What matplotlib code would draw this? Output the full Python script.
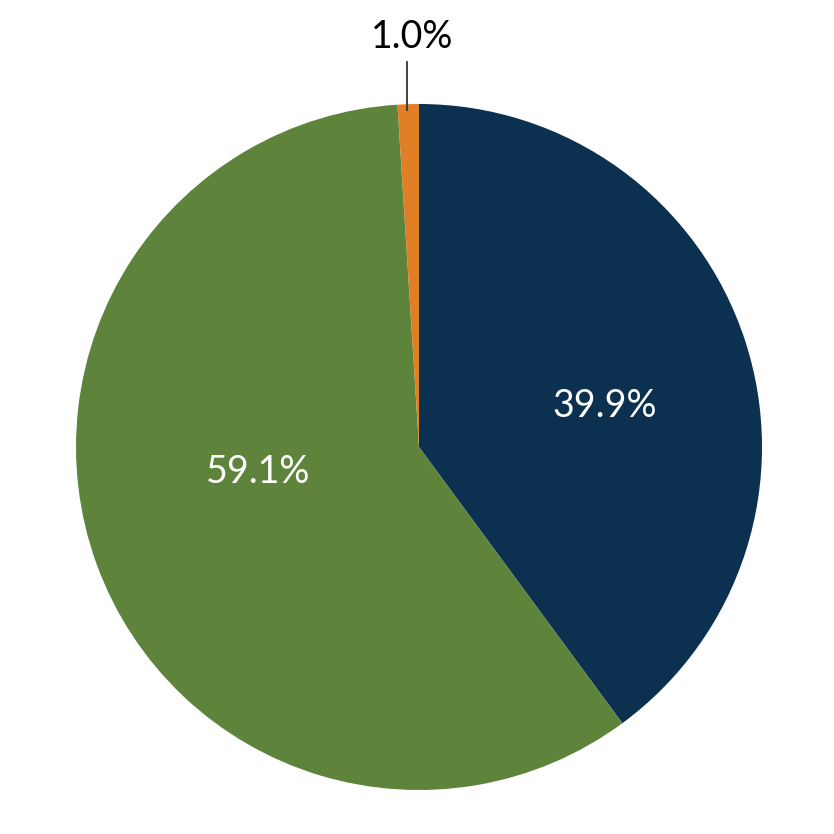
import matplotlib
matplotlib.use("Agg")
import matplotlib.pyplot as plt

shares = [39.9, 59.1, 1.0]
labels = ["39.9%", "59.1%", "1.0%"]
colors = ["#0B3050", "#5E833B", "#E07F26"]

plt.rcParams['font.family'] = ['Lato', 'DejaVu Sans']

fig = plt.figure(figsize=(8.34, 8.34), dpi=100)
ax = fig.add_axes([0, 0, 1, 1])

ax.pie(shares, colors=colors, startangle=90, counterclock=False,
       radius=1, wedgeprops=dict(linewidth=0))

# pixel geometry: centre (419, 447), radius 343
r_px = 343.0
ax.set_xlim(-419 / r_px, (834 - 419) / r_px)
ax.set_ylim(-(834 - 447) / r_px, 447 / r_px)
ax.set_aspect("equal")
ax.axis("off")

ax.text(0.542, 0.120, labels[0], color="white", fontsize=27,
        ha="center", va="center")
ax.text(-0.469, -0.073, labels[1], color="white", fontsize=27,
        ha="center", va="center")

# small slice label with leader line
ax.plot([-0.035, -0.035], [0.983, 1.122], color="#333333", lw=1.3)
ax.text(-0.020, 1.195, labels[2], color="black", fontsize=27,
        ha="center", va="center")

fig.savefig("out.png", dpi=100)
